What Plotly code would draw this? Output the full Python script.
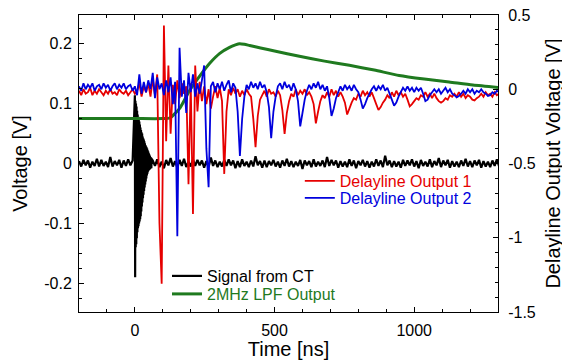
import plotly.graph_objects as go

# ---------------- data ----------------
# Signal from CT, left axis, values in mV
CT_PRE_START, CT_PRE_STEP = -200, 8
ct_pre_mv = [4, -5, 6, -3, 5, -7, 3, -4, 8, -5,
             6, -4, 3, -6, 11, -5, 4, -3, 6, -7,
             5, -4, 7, -3, 5]
CT_BURST_START, CT_BURST_STEP = 0, 1
ct_burst_mv = [114, -190, 105, -140, 100, -135, 95, -125, 88, -115,
               82, -108, 78, -105, 74, -100, 70, -97, 65, -93,
               60, -88, 56, -80, 52, -72, 50, -65, 45, -58,
               42, -52, 40, -46, 37, -40, 34, -35, 31, -30,
               29, -25, 27, -20, 25, -17, 22, -14, 20, -12,
               17, -11, 15, -10, 13, -9, 11, -8, 10, -8, 8]
CT_POST_START, CT_POST_STEP = 64, 8
ct_post_mv = [5, -4, 7, -6, 3, -8, 6, -3, 9, -5,
              4, -7, 6, -4, 8, -6, 3, -5, 7, -4,
              6, -3, 5, -7, 4, -6, 10, -4, 5, -6,
              3, -5, 6, -4, 7, -3, 5, -8, 4, -6,
              7, -4, 3, -6, 5, -5, 12, -3, 4, -7,
              5, -6, 4, -3, 6, -5, 3, -7, 5, -4,
              8, -5, 4, -6, 3, -4, 6, -9, 5, -3,
              4, -6, 7, -5, 3, -4, 5, -6, 11, -4,
              6, -3, 5, -7, 4, -5, 3, -6, 7, -4,
              5, -8, 4, -3, 6, -5, 4, -7, 3, -5,
              7, -4, 5, -6, 13, -3, 5, -6, 4, -5,
              3, -7, 6, -4, 5, -3, 7, -5, 4, -8,
              6, -4, 3, -5, 7, -6, 4, -3, 9, -6,
              5, -3, 6, -7, 4, -5, 3, -6, 5, -4,
              8, -5, 4, -6, 5, -3, 6, -7, 4, -5,
              3, -6, 5, -4, 7, -5, 4, -6, 5, -3]

# 2MHz LPF output, left axis [V]
lpf_t = [-200, -100, 0, 100, 125, 161, 196, 232, 268, 304, 339, 360, 375,
         392, 411, 450, 500, 589, 679, 768, 857, 946, 1036, 1125, 1210, 1300]
lpf_v = [0.075, 0.075, 0.075, 0.075, 0.076, 0.0925, 0.122, 0.146, 0.1675, 0.184, 0.194, 0.198, 0.200,
         0.199, 0.197, 0.193, 0.188, 0.179, 0.171, 0.164, 0.156, 0.147, 0.141, 0.136, 0.131, 0.127]

# Delayline outputs, right axis [V], sampled every 8 ns from -200 ns
DL_START, DL_STEP = -200, 8
dl1_v = [-0.01, -0.04, 0.00, -0.03, -0.02, 0.01, -0.04, -0.01, -0.03, 0.00,
         -0.02, -0.04, -0.01, -0.03, 0.00, -0.03, -0.02, -0.04, 0.00, -0.02,
         -0.03, -0.01, -0.04, -0.02, 0.00, -0.03, -0.01, 0.04, -0.05, 0.02,
         -0.02, 0.04, -0.05, 0.07, -0.04, 0.10, -0.90, -1.31, 0.43, -0.35,
         0.16, -0.30, 0.03, -0.10, 0.06, -0.06, 0.04, -0.03, 0.02, -0.64,
         0.04, -0.84, 0.16, -0.15, 0.05, -0.08, 0.02, -0.10, 0.00, -0.13,
         -0.05, 0.02, -0.06, 0.01, -0.08, -0.57, -0.15, 0.00, -0.04, 0.01,
         -0.03, 0.00, -0.05, -0.01, -0.04, 0.00, -0.03, -0.05, -0.20, -0.39,
         -0.18, -0.07, -0.04, -0.01, -0.05, 0.00, -0.03, -0.02, -0.05, -0.01,
         -0.04, -0.14, -0.30, -0.16, -0.08, -0.03, -0.05, 0.00, -0.04, -0.01,
         -0.03, 0.00, -0.04, -0.02, -0.05, -0.10, -0.23, -0.15, -0.08, -0.04,
         -0.06, -0.02, -0.05, 0.00, -0.04, -0.01, -0.05, -0.02, -0.05, -0.09,
         -0.17, -0.13, -0.09, -0.06, -0.07, -0.03, -0.05, -0.01, -0.04, -0.02,
         -0.05, -0.02, -0.06, -0.10, -0.14, -0.12, -0.09, -0.07, -0.04, -0.06,
         -0.02, -0.05, -0.01, -0.04, -0.02, -0.05, -0.03, -0.07, -0.115, -0.10,
         -0.08, -0.06, -0.07, -0.04, -0.05, -0.02, -0.05, -0.03, -0.06, -0.03,
         -0.06, -0.08, -0.09, -0.08, -0.06, -0.07, -0.04, -0.05, -0.03, -0.05,
         -0.02, -0.05, -0.03, -0.06, -0.04, -0.05, -0.07, -0.075, -0.06, -0.05,
         -0.03, -0.05, -0.02, -0.04, -0.03, -0.05, -0.02, -0.04, -0.03, -0.05]
dl2_v = [0.02, -0.01, 0.04, 0.00, 0.03, 0.01, 0.04, -0.01, 0.02, 0.03,
         0.00, 0.04, 0.01, 0.03, -0.01, 0.02, 0.04, 0.00, 0.03, 0.01,
         0.04, 0.00, 0.02, 0.03, -0.01, 0.02, -0.04, 0.10, -0.03, 0.05,
         -0.02, 0.06, 0.00, 0.11, -0.06, 0.08, 0.00, 0.04, -0.04, 0.06,
         -0.02, 0.08, -0.10, 0.05, -0.99, 0.28, -0.05, 0.06, -0.16, 0.11,
         -0.02, 0.10, -0.05, 0.04, -0.03, 0.06, 0.16, -0.40, -0.66, 0.02,
         0.05, -0.02, 0.04, 0.00, 0.05, -0.01, 0.03, 0.06, -0.02, 0.04,
         0.01, -0.15, -0.45, -0.20, -0.05, 0.03, 0.00, 0.05, 0.01, 0.04,
         0.00, 0.05, 0.01, 0.03, -0.02, -0.12, -0.33, -0.15, -0.05, 0.02,
         0.04, 0.00, 0.05, 0.01, 0.03, -0.01, 0.04, 0.00, -0.08, -0.25,
         -0.16, -0.07, -0.01, 0.03, 0.00, 0.04, 0.01, 0.05, 0.00, 0.03,
         -0.01, 0.02, -0.06, -0.18, -0.13, -0.06, -0.02, 0.02, -0.01, 0.03,
         0.00, 0.02, -0.01, 0.03, 0.00, -0.02, -0.07, -0.13, -0.10, -0.06,
         -0.03, 0.00, 0.02, -0.01, 0.02, 0.00, 0.03, -0.01, 0.01, -0.03,
         -0.07, -0.11, -0.09, -0.05, -0.02, 0.01, -0.01, 0.02, -0.01, 0.01,
         -0.02, 0.01, -0.01, 0.01, -0.03, -0.08, -0.07, -0.04, -0.02, 0.00,
         -0.02, 0.00, -0.03, -0.01, 0.01, -0.02, 0.00, -0.03, -0.04, -0.055,
         -0.045, -0.03, -0.01, -0.03, 0.00, -0.02, 0.00, -0.03, -0.01, -0.02,
         0.00, -0.02, -0.03, -0.045, -0.04, -0.02, -0.03, -0.01, -0.02, -0.01]

# tick labels
x_tickvals = [0, 500, 1000]
x_ticktext = ["0", "500", "1000"]
y_tickvals = [-0.2, -0.1, 0, 0.1, 0.2]
y_ticktext = ["-0.2", "-0.1", "0", "0.1", "0.2"]
y2_tickvals = [-1.5, -1, -0.5, 0, 0.5]
y2_ticktext = ["-1.5", "-1", "-0.5", "0", "0.5"]

# ---------------- build ----------------
def times(start, step, n):
    return [start + step * i for i in range(n)]

ct_t = (times(CT_PRE_START, CT_PRE_STEP, len(ct_pre_mv))
        + times(CT_BURST_START, CT_BURST_STEP, len(ct_burst_mv))
        + times(CT_POST_START, CT_POST_STEP, len(ct_post_mv)))
ct_v = [v / 1000 for v in ct_pre_mv + ct_burst_mv + ct_post_mv]
dl_t = times(DL_START, DL_STEP, len(dl1_v))
dl2_t = times(DL_START, DL_STEP, len(dl2_v))

FONT = "Liberation Sans, Arial, Helvetica, sans-serif"
RED = "#e60000"
BLUE = "#0000dd"
GREEN = "#1f7a1f"

fig = go.Figure()
fig.add_trace(go.Scatter(x=ct_t, y=ct_v, mode="lines",
                         line=dict(color="black", width=2.2, simplify=False),
                         name='<span style="color:black">Signal from CT</span>',
                         legend="legend"))
fig.add_trace(go.Scatter(x=dl_t, y=dl1_v, mode="lines", yaxis="y2",
                         line=dict(color=RED, width=1.8, simplify=False),
                         name=f'<span style="color:{RED}">Delayline Output 1</span>',
                         legend="legend3"))
fig.add_trace(go.Scatter(x=dl2_t, y=dl2_v, mode="lines", yaxis="y2",
                         line=dict(color=BLUE, width=1.8, simplify=False),
                         name=f'<span style="color:{BLUE}">Delayline Output 2</span>',
                         legend="legend4"))
fig.add_trace(go.Scatter(x=lpf_t, y=lpf_v, mode="lines",
                         line=dict(color=GREEN, width=3, shape="spline", smoothing=0.6),
                         name=f'<span style="color:{GREEN}">2MHz LPF Output</span>',
                         legend="legend2"))

axis_common = dict(showgrid=False, zeroline=False, showline=True, linecolor="black",
                   linewidth=1, ticks="inside", ticklen=5, tickcolor="black",
                   automargin=False, ticklabeloverflow="allow",
                   tickfont=dict(size=16, color="black", family=FONT))

PLOT_TOP, PLOT_BOTTOM = 15, 312   # plot area in page pixels
def ypos(py):
    return (PLOT_BOTTOM - py) / (PLOT_BOTTOM - PLOT_TOP)

leg_common = dict(xanchor="left", yanchor="middle", bgcolor="rgba(0,0,0,0)",
                  font=dict(size=16, family=FONT), borderwidth=0)

# the page body has an 8px margin, so the figure is 8px smaller and margins shifted
fig.update_layout(
    width=562, height=352,
    margin=dict(l=71, r=72, t=7, b=48),
    paper_bgcolor="white", plot_bgcolor="white",
    font=dict(family=FONT, color="black"),
    xaxis=dict(range=[-200, 1300], tickmode="array", tickvals=x_tickvals, ticktext=x_ticktext,
               mirror="ticks", ticklabelstandoff=4,
               minor=dict(ticks="inside", ticklen=3, dtick=100, tick0=0, tickcolor="black"),
               title=dict(text="Time [ns]", font=dict(size=20), standoff=7),
               **axis_common),
    yaxis=dict(range=[-0.248, 0.248], tickmode="array", tickvals=y_tickvals, ticktext=y_ticktext,
               ticklabelstandoff=3,
               minor=dict(ticks="inside", ticklen=3, dtick=0.025, tick0=0, tickcolor="black"),
               title=dict(text="Voltage [V]", font=dict(size=20), standoff=11),
               **axis_common),
    yaxis2=dict(range=[-1.5, 0.5], overlaying="y", side="right",
                tickmode="array", tickvals=y2_tickvals, ticktext=y2_ticktext,
                ticklabelstandoff=6,
                minor=dict(ticks="inside", ticklen=3, dtick=0.1, tick0=0, tickcolor="black"),
                title=dict(text="Delayline Output Voltage [V]", font=dict(size=20), standoff=11),
                **axis_common),
    legend=dict(x=0.21, y=ypos(276), **leg_common),
    legend2=dict(x=0.21, y=ypos(294), **leg_common),
    legend3=dict(x=0.527, y=ypos(181), **leg_common),
    legend4=dict(x=0.527, y=ypos(198), **leg_common),
    showlegend=True,
)

fig.write_html("out.html")
